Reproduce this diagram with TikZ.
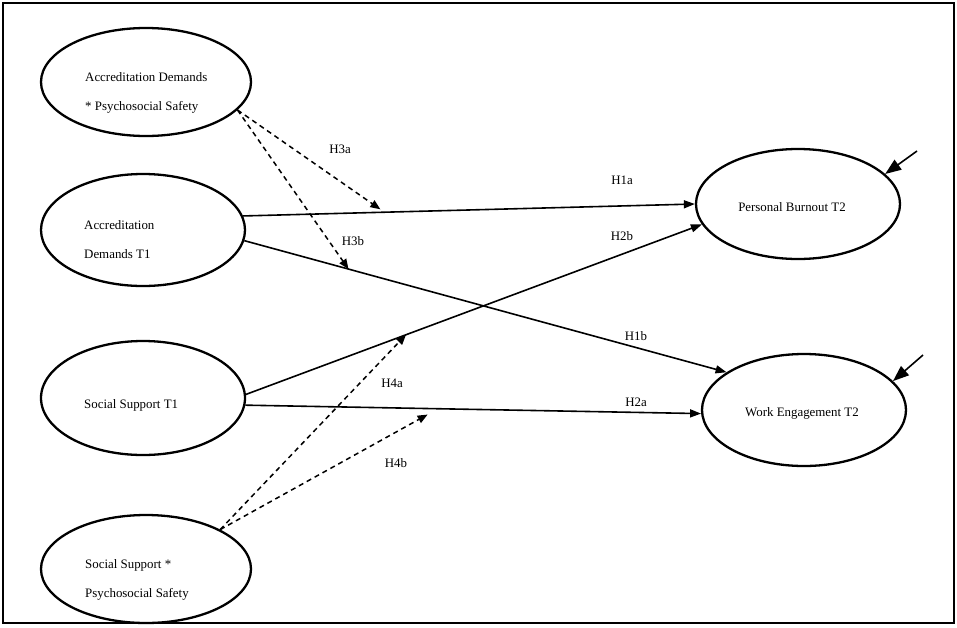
\documentclass[tikz,border=0pt]{standalone}
\usepackage{fontspec}
\setmainfont{Liberation Serif}
\usetikzlibrary{arrows.meta,shapes.geometric}
\begin{document}
\begin{tikzpicture}[x=1pt,y=-1pt,
  font=\fontsize{12.9}{29}\selectfont,
  latent/.style 2 args={ellipse,draw,line width=2.3pt,inner sep=0pt,minimum width=#1,minimum height=#2},
  txt/.style={anchor=west,align=left,inner sep=0pt},
  lbl/.style={inner sep=0pt},
  path/.style={line width=1.6pt,-{Triangle[length=11pt,width=8pt]}},
  modpath/.style={line width=1.5pt,dash pattern=on 5pt off 4pt,-{Triangle[length=10pt,width=8pt]}},
  errpath/.style={line width=1.6pt,-{Triangle[length=16pt,width=12pt]}}
]
\useasboundingbox (0,0) rectangle (957,627);
\draw[line width=2pt] (3,3) rectangle (954,623);

\node[latent={210pt}{108pt}] (e1) at (146,82) {};
\node[latent={204pt}{112pt}] (e2) at (143,230) {};
\node[latent={204pt}{114pt}] (e3) at (143,398) {};
\node[latent={210pt}{108pt}] (e4) at (146,569) {};
\node[latent={204pt}{110pt}] (pb) at (798,204) {};
\node[latent={204pt}{112pt}] (we) at (804,410) {};

\node[txt] (t1) at (85,93) {Accreditation Demands\\* Psychosocial Safety};
\node[txt] (t2) at (84,240) {Accreditation\\Demands T1};
\node[txt] (t3) at (84,405) {Social Support T1};
\node[txt] (t4) at (85,580) {Social Support *\\Psychosocial Safety};
\node[lbl] (t5) at (792,207) {Personal Burnout T2};
\node[lbl] (t6) at (802,413) {Work Engagement T2};

\draw[path] (e2.8) -- coordinate[pos=0.304] (m3a) (pb.west);
\draw[path] (e2.-6) -- coordinate[pos=0.216] (m3b) (we.154);
\draw[path] (e3.2) -- coordinate[pos=0.351] (m4a) (pb.192);
\draw[path] (e3.-4) -- coordinate[pos=0.40] (m4b) (we.182);

\draw[modpath] (e1.-17) -- ([yshift=3pt]m3a);
\draw[modpath] (e1.-17) -- (m3b);
\draw[modpath] (e4.28) -- (m4a);
\draw[modpath] (e4.28) -- ([yshift=-6pt]m4b);

\coordinate (r1) at (917,151);
\coordinate (r2) at (923,355);
\draw[errpath] (r1) -- (pb.19);
\draw[errpath] (r2) -- (we.18);

\node[lbl] (h1a) at (622,180) {H1a};
\node[lbl] (h2b) at (622,236) {H2b};
\node[lbl] (h1b) at (636,336) {H1b};
\node[lbl] (h2a) at (636,402) {H2a};
\node[lbl] (h3a) at (340,149) {H3a};
\node[lbl] (h3b) at (353,241) {H3b};
\node[lbl] (h4a) at (392,383) {H4a};
\node[lbl] (h4b) at (396,463) {H4b};
\end{tikzpicture}
\end{document}
